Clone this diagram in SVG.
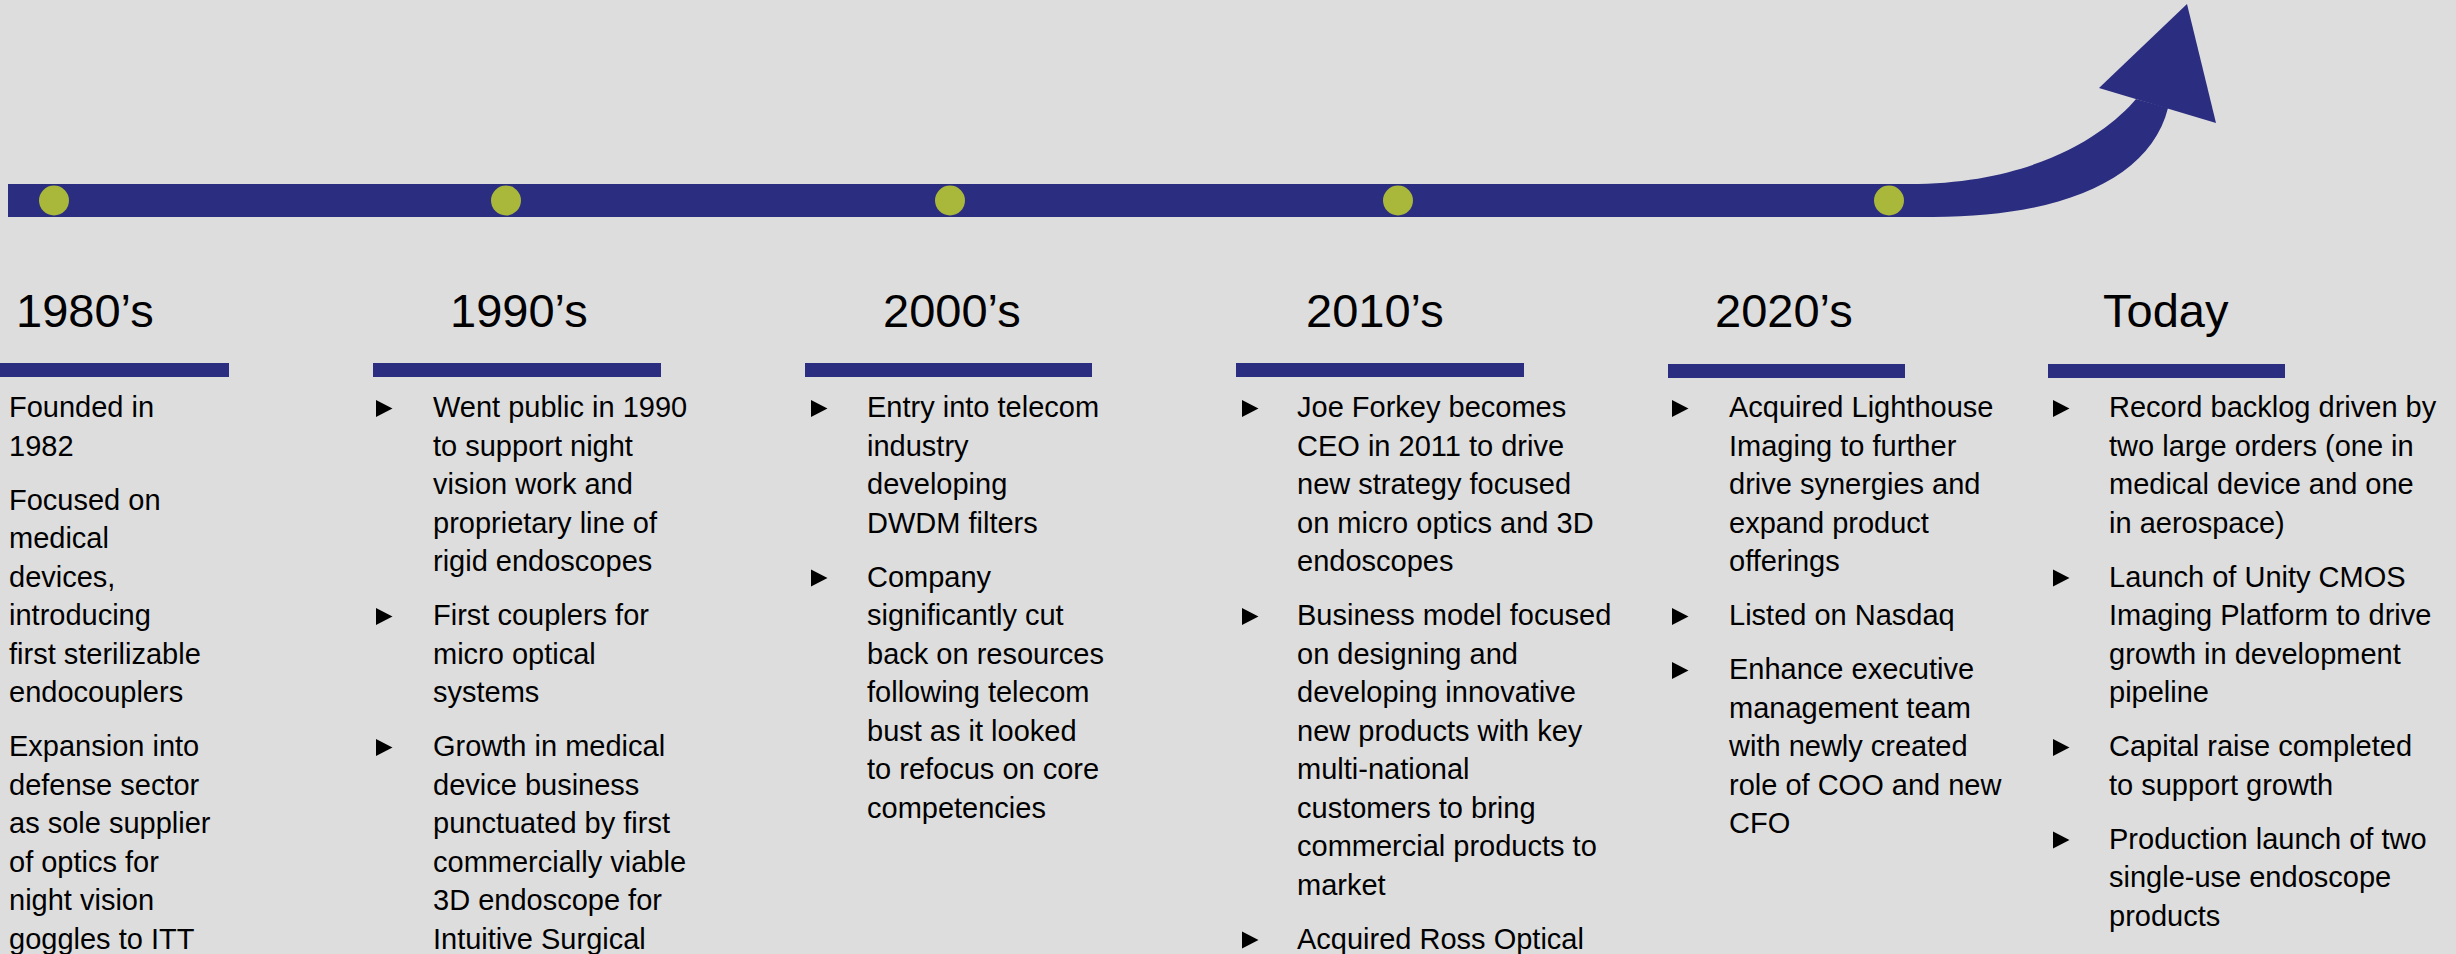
<svg xmlns="http://www.w3.org/2000/svg" xmlns:xlink="http://www.w3.org/1999/xlink" width="2456" height="954" viewBox="0 0 2456 954">
<style>
.bg{fill:#DDDDDD}
.navy{fill:#2B2D80}
.dot{fill:#A9B73A}
.hd{font-family:"Liberation Sans",Arial,sans-serif;font-size:47px;fill:#000}
.tx{font-family:"Liberation Sans",Arial,sans-serif;font-size:29px;fill:#000}
.bul{fill:#000}
</style>
<defs>
<path id="b" d="M0,-17 L16.5,-8.5 L0,0 Z"/>
</defs>
<rect class="bg" x="0" y="0" width="2456" height="954"/>
<g id="connectors">
<path class="navy" d="M8,184 L1909,184 C2040,184 2110,130 2136,99 L2168,108 C2150,180 2060,217 1933,217 L8,217 Z"/>
<polygon class="navy" points="2099,88 2187,4 2216,123"/>
</g>
<g id="node-1980s">
<circle class="dot" cx="54" cy="200.5" r="15"/>
<text class="hd" x="16" y="327">1980’s</text>
<rect class="navy" x="0" y="363" width="229" height="14"/>
<text class="tx">
<tspan x="9" y="417">Founded in</tspan>
<tspan x="9" y="455.5">1982</tspan>
<tspan x="9" y="509.5">Focused on</tspan>
<tspan x="9" y="548">medical</tspan>
<tspan x="9" y="586.5">devices,</tspan>
<tspan x="9" y="625">introducing</tspan>
<tspan x="9" y="663.5">first sterilizable</tspan>
<tspan x="9" y="702">endocouplers</tspan>
<tspan x="9" y="756">Expansion into</tspan>
<tspan x="9" y="794.5">defense sector</tspan>
<tspan x="9" y="833">as sole supplier</tspan>
<tspan x="9" y="871.5">of optics for</tspan>
<tspan x="9" y="910">night vision</tspan>
<tspan x="9" y="948.5">goggles to ITT</tspan>
</text>
</g>
<g id="node-1990s">
<circle class="dot" cx="506" cy="200.5" r="15"/>
<text class="hd" x="450" y="327">1990’s</text>
<rect class="navy" x="373" y="363" width="288" height="14"/>
<use xlink:href="#b" class="bul" x="376" y="417"/>
<use xlink:href="#b" class="bul" x="376" y="625"/>
<use xlink:href="#b" class="bul" x="376" y="756"/>
<text class="tx">
<tspan x="433" y="417">Went public in 1990</tspan>
<tspan x="433" y="455.5">to support night</tspan>
<tspan x="433" y="494">vision work and</tspan>
<tspan x="433" y="532.5">proprietary line of</tspan>
<tspan x="433" y="571">rigid endoscopes</tspan>
<tspan x="433" y="625">First couplers for</tspan>
<tspan x="433" y="663.5">micro optical</tspan>
<tspan x="433" y="702">systems</tspan>
<tspan x="433" y="756">Growth in medical</tspan>
<tspan x="433" y="794.5">device business</tspan>
<tspan x="433" y="833">punctuated by first</tspan>
<tspan x="433" y="871.5">commercially viable</tspan>
<tspan x="433" y="910">3D endoscope for</tspan>
<tspan x="433" y="948.5">Intuitive Surgical</tspan>
</text>
</g>
<g id="node-2000s">
<circle class="dot" cx="950" cy="200.5" r="15"/>
<text class="hd" x="883" y="327">2000’s</text>
<rect class="navy" x="805" y="363" width="287" height="14"/>
<use xlink:href="#b" class="bul" x="811" y="417"/>
<use xlink:href="#b" class="bul" x="811" y="586.5"/>
<text class="tx">
<tspan x="867" y="417">Entry into telecom</tspan>
<tspan x="867" y="455.5">industry</tspan>
<tspan x="867" y="494">developing</tspan>
<tspan x="867" y="532.5">DWDM filters</tspan>
<tspan x="867" y="586.5">Company</tspan>
<tspan x="867" y="625">significantly cut</tspan>
<tspan x="867" y="663.5">back on resources</tspan>
<tspan x="867" y="702">following telecom</tspan>
<tspan x="867" y="740.5">bust as it looked</tspan>
<tspan x="867" y="779">to refocus on core</tspan>
<tspan x="867" y="817.5">competencies</tspan>
</text>
</g>
<g id="node-2010s">
<circle class="dot" cx="1398" cy="200.5" r="15"/>
<text class="hd" x="1306" y="327">2010’s</text>
<rect class="navy" x="1236" y="363" width="288" height="14"/>
<use xlink:href="#b" class="bul" x="1242" y="417"/>
<use xlink:href="#b" class="bul" x="1242" y="625"/>
<use xlink:href="#b" class="bul" x="1242" y="948.5"/>
<text class="tx">
<tspan x="1297" y="417">Joe Forkey becomes</tspan>
<tspan x="1297" y="455.5">CEO in 2011 to drive</tspan>
<tspan x="1297" y="494">new strategy focused</tspan>
<tspan x="1297" y="532.5">on micro optics and 3D</tspan>
<tspan x="1297" y="571">endoscopes</tspan>
<tspan x="1297" y="625">Business model focused</tspan>
<tspan x="1297" y="663.5">on designing and</tspan>
<tspan x="1297" y="702">developing innovative</tspan>
<tspan x="1297" y="740.5">new products with key</tspan>
<tspan x="1297" y="779">multi-national</tspan>
<tspan x="1297" y="817.5">customers to bring</tspan>
<tspan x="1297" y="856">commercial products to</tspan>
<tspan x="1297" y="894.5">market</tspan>
<tspan x="1297" y="948.5">Acquired Ross Optical</tspan>
</text>
</g>
<g id="node-2020s">
<circle class="dot" cx="1889" cy="200.5" r="15"/>
<text class="hd" x="1715" y="327">2020’s</text>
<rect class="navy" x="1668" y="364" width="237" height="14"/>
<use xlink:href="#b" class="bul" x="1672" y="417"/>
<use xlink:href="#b" class="bul" x="1672" y="625"/>
<use xlink:href="#b" class="bul" x="1672" y="679"/>
<text class="tx">
<tspan x="1729" y="417">Acquired Lighthouse</tspan>
<tspan x="1729" y="455.5">Imaging to further</tspan>
<tspan x="1729" y="494">drive synergies and</tspan>
<tspan x="1729" y="532.5">expand product</tspan>
<tspan x="1729" y="571">offerings</tspan>
<tspan x="1729" y="625">Listed on Nasdaq</tspan>
<tspan x="1729" y="679">Enhance executive</tspan>
<tspan x="1729" y="717.5">management team</tspan>
<tspan x="1729" y="756">with newly created</tspan>
<tspan x="1729" y="794.5">role of COO and new</tspan>
<tspan x="1729" y="833">CFO</tspan>
</text>
</g>
<g id="node-today">
<text class="hd" x="2103" y="327">Today</text>
<rect class="navy" x="2048" y="364" width="237" height="14"/>
<use xlink:href="#b" class="bul" x="2053" y="417"/>
<use xlink:href="#b" class="bul" x="2053" y="586.5"/>
<use xlink:href="#b" class="bul" x="2053" y="756"/>
<use xlink:href="#b" class="bul" x="2053" y="848.5"/>
<text class="tx">
<tspan x="2109" y="417">Record backlog driven by</tspan>
<tspan x="2109" y="455.5">two large orders (one in</tspan>
<tspan x="2109" y="494">medical device and one</tspan>
<tspan x="2109" y="532.5">in aerospace)</tspan>
<tspan x="2109" y="586.5">Launch of Unity CMOS</tspan>
<tspan x="2109" y="625">Imaging Platform to drive</tspan>
<tspan x="2109" y="663.5">growth in development</tspan>
<tspan x="2109" y="702">pipeline</tspan>
<tspan x="2109" y="756">Capital raise completed</tspan>
<tspan x="2109" y="794.5">to support growth</tspan>
<tspan x="2109" y="848.5">Production launch of two</tspan>
<tspan x="2109" y="887">single-use endoscope</tspan>
<tspan x="2109" y="925.5">products</tspan>
</text>
</g>
</svg>
